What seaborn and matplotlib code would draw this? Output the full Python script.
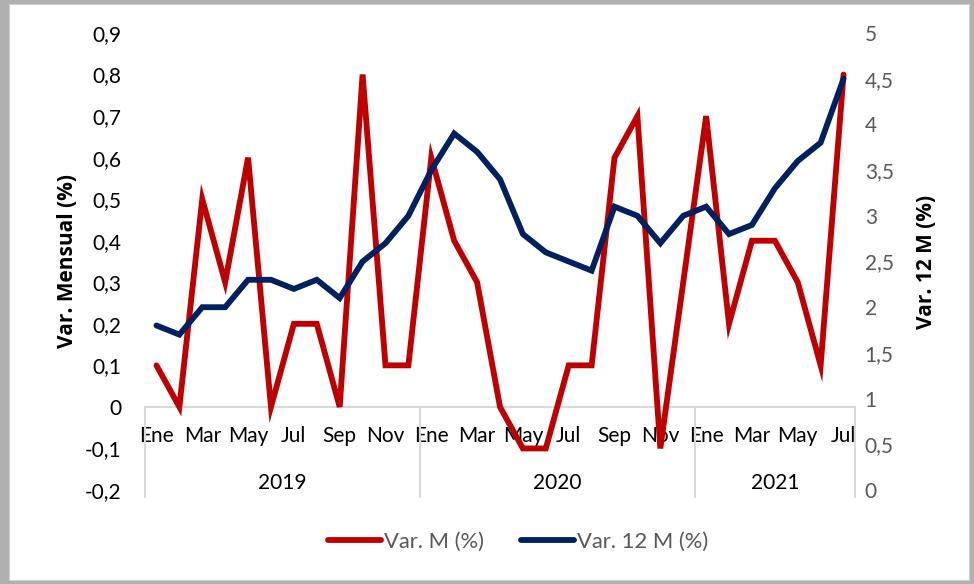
import matplotlib
matplotlib.use("Agg")
import matplotlib.pyplot as plt
import matplotlib.patches as mpatches
from matplotlib.lines import Line2D
from matplotlib.ticker import FuncFormatter, MultipleLocator
import seaborn as sns
import pandas as pd

# ---------------- data ----------------
month_names = ['Ene', 'Feb', 'Mar', 'Abr', 'May', 'Jun', 'Jul', 'Ago', 'Sep', 'Oct', 'Nov', 'Dic']
years = ['2019', '2020', '2021']
months_per_year = [12, 12, 7]
var_m = [0.1, 0.0, 0.5, 0.3, 0.6, 0.0, 0.2, 0.2, 0.0, 0.8, 0.1, 0.1,
         0.6, 0.4, 0.3, 0.0, -0.1, -0.1, 0.1, 0.1, 0.6, 0.7, -0.1, 0.3,
         0.7, 0.2, 0.4, 0.4, 0.3, 0.1, 0.8]
var_12m = [1.8, 1.7, 2.0, 2.0, 2.3, 2.3, 2.2, 2.3, 2.1, 2.5, 2.7, 3.0,
           3.5, 3.9, 3.7, 3.4, 2.8, 2.6, 2.5, 2.4, 3.1, 3.0, 2.7, 3.0,
           3.1, 2.8, 2.9, 3.3, 3.6, 3.8, 4.5]
series_names = ['Var. M (%)', 'Var. 12 M (%)']

labels = []
for n in months_per_year:
    labels += month_names[:n]
df = pd.DataFrame({'idx': range(len(var_m)), 'mes': labels,
                   'var_m': var_m, 'var_12m': var_12m})

# ---------------- style ----------------
sns.set_style("white")
plt.rcParams['font.family'] = ['Lato', 'DejaVu Sans']
RED = '#C00000'
NAVY = '#002060'
GRAY_TXT = '#595959'
GRID = '#d9d9d9'

fig = plt.figure(figsize=(9.74, 5.84), dpi=100)
fig.patch.set_facecolor('#b0b0b0')
fig.patches.append(mpatches.Rectangle((9 / 974, 4 / 584), 960 / 974, 576 / 584,
                                      transform=fig.transFigure, facecolor='white',
                                      edgecolor='#d0d0d0', lw=0.8, zorder=-5))

ax = fig.add_axes([145 / 974, (584 - 490) / 584, 710 / 974, 457 / 584])
ax.set_facecolor('none')
ax2 = ax.twinx()
ax2.set_facecolor('none')

comma = FuncFormatter(lambda v, p: (f"{v:.1f}".rstrip('0').rstrip('.') if abs(v) > 1e-9 else "0").replace('.', ','))

lw = 4.2
sns.lineplot(data=df, x='idx', y='var_m', ax=ax, color=RED, lw=lw,
             solid_capstyle='round', solid_joinstyle='miter', legend=False, zorder=3)
sns.lineplot(data=df, x='idx', y='var_12m', ax=ax2, color=NAVY, lw=lw,
             solid_capstyle='round', solid_joinstyle='miter', legend=False, zorder=3)

n = len(var_m)
ax.set_xlim(-0.5, n - 0.5)
ax.set_ylim(-0.2, 0.9)
ax.yaxis.set_major_locator(MultipleLocator(0.1))
ax.yaxis.set_major_formatter(comma)
ax2.set_ylim(0, 5)
ax2.yaxis.set_major_locator(MultipleLocator(0.5))
ax2.yaxis.set_major_formatter(comma)

for a in (ax, ax2):
    for s in ['top', 'left', 'right']:
        a.spines[s].set_visible(False)
ax2.spines['bottom'].set_visible(False)
ax.spines['bottom'].set_position(('data', 0))
ax.spines['bottom'].set_color(GRID)
ax.spines['bottom'].set_linewidth(1.5)

ax.set_xticks(list(range(0, n, 2)))
ax.set_xticklabels([labels[i] for i in range(0, n, 2)])
ax.tick_params(axis='x', length=0, pad=14, labelsize=15, labelcolor='black')
ax.tick_params(axis='y', length=0, pad=17, labelsize=15, labelcolor='black')
ax2.tick_params(axis='y', length=0, pad=7, labelsize=15, labelcolor=GRAY_TXT)
ax.set_xlabel('')
lab_font = dict(family=['Open Sans', 'DejaVu Sans'], fontsize=15, fontweight='bold', color='black')
ax.set_ylabel('Var. Mensual (%)', labelpad=5, **lab_font)
ax2.set_ylabel('Var. 12 M (%)', labelpad=16, **lab_font)

# year groups and separators
start = 0
bounds = [-0.5]
for yr, cnt in zip(years, months_per_year):
    ax.text(start + (cnt - 1) / 2, -0.183, yr, ha='center', va='center', fontsize=15, color='black')
    start += cnt
    bounds.append(start - 0.5)
for b in bounds:
    ax.plot([b, b], [0, -0.217], color=GRID, lw=1.5, clip_on=False, zorder=1)

handles = [Line2D([], [], color=RED, lw=lw, solid_capstyle='round'),
           Line2D([], [], color=NAVY, lw=lw, solid_capstyle='round')]
leg = fig.legend(handles, series_names, loc='center', bbox_to_anchor=(0.532, (584 - 542) / 584),
                 ncol=2, frameon=False, fontsize=15.8, handlelength=2.4, handletextpad=0.15,
                 columnspacing=1.7)
for t in leg.get_texts():
    t.set_color(GRAY_TXT)

fig.savefig('out.png', dpi=100, facecolor=fig.get_facecolor())
